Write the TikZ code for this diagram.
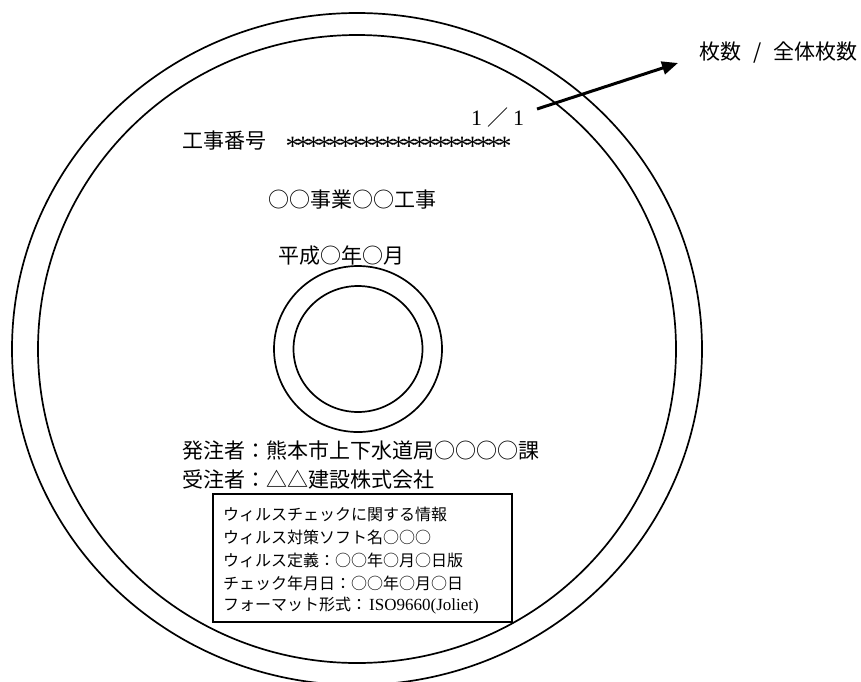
\documentclass[tikz,border=0pt]{standalone}
\usepackage{fontspec}
\newfontfamily\jp{Noto Sans CJK JP}
\newfontfamily\lserif{Liberation Serif}
\usetikzlibrary{arrows.meta}
\tikzset{
  discline/.style={line width=1.7pt},
  lbl/.style={anchor=west, inner sep=0pt, font=\jp\fontsize{21}{21}\selectfont},
  smalllbl/.style={anchor=west, inner sep=0pt, font=\jp\fontsize{16}{16}\selectfont},
  pointer/.style={line width=3pt, -{Triangle[length=16pt,width=13pt]}},
}
\newcommand\onestar{\makebox[10.6pt]{\raisebox{-6.5pt}{\lserif\fontsize{28}{28}\selectfont *}}}
\begin{document}
\begin{tikzpicture}[x=1pt,y=-1pt]
\useasboundingbox (0,0) rectangle (861,681);
% disc
\draw[discline] (357,349) ellipse [x radius=345pt, y radius=336pt];
\draw[discline] (357,349) ellipse [x radius=319pt, y radius=314pt];
\draw[discline] (358,349) ellipse [x radius=84pt, y radius=83pt];
\draw[discline] (358,349) ellipse [x radius=64.5pt, y radius=63pt];
% texts
\node[lbl] (frac) at (466,118) {\makebox[21pt]{\lserif\fontsize{22}{22}\selectfont 1}／\makebox[21pt]{\lserif\fontsize{22}{22}\selectfont 1}};
\node[lbl] (kno) at (182,143) {工事番号　\onestar\onestar\onestar\onestar\onestar\onestar\onestar\onestar\onestar\onestar\onestar\onestar\onestar\onestar\onestar\onestar\onestar\onestar\onestar\onestar\onestar};
\node[lbl] (title) at (268,200) {○○事業○○工事};
\node[lbl] (date) at (278,256) {平成○年○月};
\node[lbl] (orderer) at (182,451) {発注者：熊本市上下水道局○○○○課};
\node[lbl] (contractor) at (182,479) {受注者：△△建設株式会社};
% info box
\node[draw, line width=1.7pt, anchor=north west, inner sep=0pt, minimum width=299pt, minimum height=128pt] (infobox) at (212,493) {};
\node[smalllbl] (v1) at (223,514) {ウィルスチェックに関する情報};
\node[smalllbl] (v2) at (223,537) {ウィルス対策ソフト名○○○};
\node[smalllbl] (v3) at (223,560) {ウィルス定義：○○年○月○日版};
\node[smalllbl] (v4) at (223,583) {チェック年月日：○○年○月○日};
\node[smalllbl] (v5) at (223,606) {フォーマット形式：\hspace{2pt}{\lserif\fontsize{17}{17}\selectfont ISO9660(Joliet)}};
% pointer label
\node[lbl] (count) at (699,53) {枚数\hspace{12pt}/\hspace{12pt}全体枚数};
\coordinate (aS) at (537,109);
\coordinate (aE) at (678,63);
\draw[pointer] (aS) -- (aE);
\end{tikzpicture}
\end{document}
